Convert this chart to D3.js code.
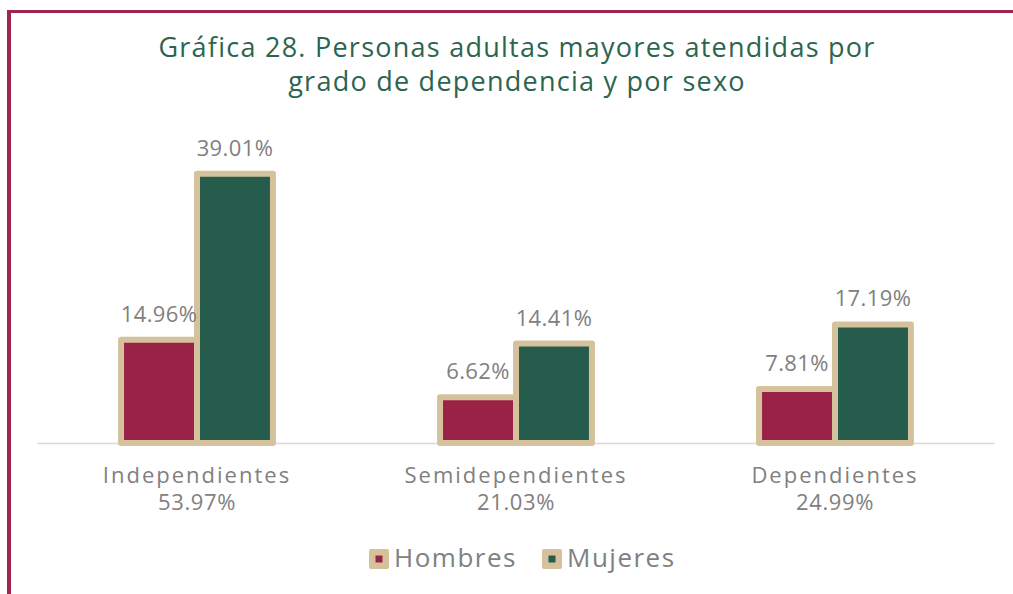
<!DOCTYPE html>
<html>
<head>
<meta charset="utf-8">
<script src="https://cdn.jsdelivr.net/npm/d3@7"></script>
<style>
  body { margin: 0; background: #fff; }
  text { font-family: "Open Sans", sans-serif; }
</style>
</head>
<body>
<div id="vis"></div>
<script>
// Data
const categories = ["Independientes", "Semidependientes", "Dependientes"]
const categoryShares = ["53.97%", "21.03%", "24.99%"]
const series = ["Hombres", "Mujeres"]
const hombres = [14.96, 6.62, 7.81]
const mujeres = [39.01, 14.41, 17.19]
const titleLines = ["Gráfica 28. Personas adultas mayores atendidas por", "grado de dependencia y por sexo"]

const colors = {Hombres: "#9b2247", Mujeres: "#265c4c"}
const tan = "#d5c29d"
const gray = "#808080"

const width = 1013, height = 594
const baseline = 443

const svg = d3.select("#vis")
  .append("svg")
  .attr("width", width)
  .attr("height", height)

// frame
svg.append("line")
  .attr("x1", 9).attr("x2", 9).attr("y1", 10).attr("y2", height)
  .attr("stroke", "#a0264f").attr("stroke-width", 4)
svg.append("line")
  .attr("x1", 7).attr("x2", width).attr("y1", 11.5).attr("y2", 11.5)
  .attr("stroke", "#a0264f").attr("stroke-width", 3)

// title
svg.append("g").selectAll("text")
  .data(titleLines)
  .join("text")
  .attr("x", 517)
  .attr("y", (d, i) => 57 + i * 34)
  .attr("text-anchor", "middle")
  .attr("fill", "#2b6550")
  .style("font-size", "27px")
  .style("letter-spacing", "1.25px")
  .text(d => d)

const x0 = d3.scaleBand().domain(categories).range([37.5, 994.5]).padding(0)
const x1 = d3.scaleBand().domain(series).range([0, x0.bandwidth()]).paddingInner(0).paddingOuter(1.1)
const y = d3.scaleLinear().domain([0, 45]).range([baseline, baseline - 6.9 * 45])

const rows = categories.map((c, i) => ({cat: c, values: [
  {key: "Hombres", value: hombres[i]},
  {key: "Mujeres", value: mujeres[i]}
]}))

// axis line
svg.append("line")
  .attr("x1", x0.range()[0]).attr("x2", x0.range()[1])
  .attr("y1", baseline + 0.5).attr("y2", baseline + 0.5)
  .attr("stroke", "#d9d9d9").attr("stroke-width", 1.5)

const groups = svg.append("g").selectAll("g")
  .data(rows)
  .join("g")
  .attr("transform", d => `translate(${x0(d.cat)},0)`)

groups.selectAll("rect")
  .data(d => d.values)
  .join("rect")
  .attr("x", d => x1(d.key))
  .attr("y", d => y(d.value))
  .attr("width", x1.bandwidth())
  .attr("height", d => y(0) - y(d.value))
  .attr("fill", d => colors[d.key])
  .attr("stroke", tan)
  .attr("stroke-width", 6)
  .attr("stroke-linejoin", "round")

groups.selectAll("text.val")
  .data(d => d.values)
  .join("text")
  .attr("class", "val")
  .attr("x", d => x1(d.key) + x1.bandwidth() / 2)
  .attr("y", d => y(d.value) - 18)
  .attr("text-anchor", "middle")
  .attr("fill", gray)
  .style("font-size", "22px")
  .style("letter-spacing", "0.4px")
  .text(d => d.value.toFixed(2) + "%")

// category labels, two lines
const cx = d => x0(d) + x0.bandwidth() / 2
svg.append("g").selectAll("text")
  .data(categories)
  .join("text")
  .attr("x", cx)
  .attr("y", 483)
  .attr("text-anchor", "middle")
  .attr("fill", gray)
  .style("font-size", "22px")
  .style("letter-spacing", "2px")
  .text(d => d)
svg.append("g").selectAll("text")
  .data(categories)
  .join("text")
  .attr("x", cx)
  .attr("y", 510)
  .attr("text-anchor", "middle")
  .attr("fill", gray)
  .style("font-size", "22px")
  .style("letter-spacing", "0.6px")
  .text((d, i) => categoryShares[i])

// legend
const legendX = [369, 542]
const legend = svg.append("g").selectAll("g")
  .data(series)
  .join("g")
  .attr("transform", (d, i) => `translate(${legendX[i]},549)`)
legend.append("rect")
  .attr("width", 20).attr("height", 20).attr("rx", 2)
  .attr("fill", tan)
legend.append("rect")
  .attr("x", 6.5).attr("y", 6.5).attr("width", 7).attr("height", 7)
  .attr("fill", d => colors[d])
legend.append("text")
  .attr("x", 25).attr("y", 18)
  .attr("fill", gray)
  .style("font-size", "26px")
  .style("letter-spacing", "1.5px")
  .text(d => d)
</script>
</body>
</html>
